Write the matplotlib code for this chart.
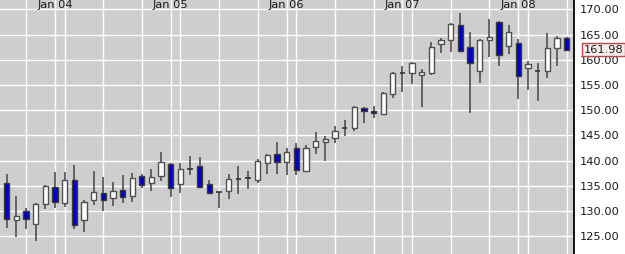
import numpy as np
import pandas as pd
import matplotlib
matplotlib.use("Agg")
import matplotlib.pyplot as plt
from matplotlib.transforms import blended_transform_factory

# ---- data (monthly OHLC, Aug 2003 .. Jun 2008) ----
months = pd.date_range("2003-08-01", periods=59, freq="MS")

opens = [135.48, 128.14, 129.98, 127.34, 131.37, 134.80, 131.51, 136.13, 128.26, 132.16,
         133.55, 132.50, 134.05, 132.90, 136.86, 135.54, 136.83, 139.25, 135.28, 138.42,
         138.85, 135.24, 133.68, 133.89, 136.28, 136.44, 136.21, 139.56, 141.23, 139.64,
         142.42, 137.92, 142.62, 143.61, 144.42, 146.42, 146.39, 150.48, 149.92, 149.29,
         153.29, 157.43, 157.42, 156.87, 157.36, 163.12, 163.81, 166.89, 162.46, 157.76,
         163.85, 167.42, 162.62, 163.25, 158.31, 157.77, 157.76, 162.42, 164.25]
highs = [137.26, 132.96, 130.60, 131.63, 135.14, 137.72, 137.72, 139.17, 132.16, 137.92,
         136.72, 135.80, 137.12, 137.46, 137.38, 138.31, 141.75, 139.44, 139.55, 140.85,
         140.66, 136.13, 133.80, 137.32, 138.91, 137.93, 140.24, 141.35, 143.63, 142.58,
         143.47, 143.08, 145.65, 144.86, 146.80, 148.04, 150.80, 150.56, 150.77, 153.69,
         157.56, 158.79, 159.60, 158.12, 163.45, 164.31, 167.28, 169.32, 165.50, 164.05,
         168.01, 167.74, 166.89, 164.17, 159.74, 159.40, 165.24, 164.70, 164.44]
lows = [126.67, 124.88, 126.47, 124.03, 130.32, 130.67, 130.83, 126.47, 125.75, 131.23,
        129.98, 131.03, 131.47, 131.73, 134.64, 134.01, 135.99, 132.82, 133.60, 137.22,
        134.50, 133.30, 130.52, 132.42, 133.40, 134.40, 135.60, 137.36, 137.38, 137.07,
        137.18, 137.72, 141.35, 139.96, 143.53, 144.86, 145.79, 147.54, 148.49, 148.97,
        152.34, 153.65, 155.24, 150.62, 156.96, 161.27, 161.59, 161.53, 149.36, 155.32,
        160.60, 158.75, 161.07, 152.14, 153.99, 151.87, 156.43, 158.69, 161.78]
closes = [128.33, 128.99, 128.45, 131.37, 134.88, 131.71, 136.19, 127.14, 131.77, 133.75,
          132.16, 133.95, 132.66, 136.47, 135.14, 136.73, 139.80, 134.60, 138.25, 138.40,
          134.70, 133.49, 133.66, 136.33, 136.26, 136.42, 139.86, 141.03, 139.64, 141.75,
          138.06, 142.48, 143.83, 144.23, 145.81, 146.40, 150.55, 149.92, 149.37, 153.40,
          157.30, 157.41, 159.44, 157.50, 162.58, 163.85, 167.08, 161.73, 159.29, 164.00,
          164.56, 160.93, 165.44, 156.83, 159.09, 157.75, 162.38, 164.25, 161.98]

price_ticks = [125, 130, 135, 140, 145, 150, 155, 160, 165, 170]

# ---- figure ----
W, H, DPI = 625, 254, 100
fig = plt.figure(figsize=(W / DPI, H / DPI), dpi=DPI)
fig.patch.set_facecolor("white")
ax = fig.add_axes([0, 0, 574 / W, 1])
ax.set_facecolor("#cecece")

x = np.arange(len(months))
o = np.array(opens); h = np.array(highs); l = np.array(lows); c = np.array(closes)

ax.set_xlim(-0.694, 58.77)
ax.set_ylim(121.45, 171.845)

# grid
for yv in price_ticks:
    ax.axhline(yv, color="white", lw=1.0, zorder=0)
for i, m in enumerate(months):
    if m.month % 4 == 2 or m.month == 1:
        ax.axvline(i, color="white", lw=1.0, zorder=0)

# wicks
ax.vlines(x, l, h, color="#5a5a5a", lw=1.3, zorder=2)

bw = 0.55
up = c > o + 0.1
down = c < o - 0.1
doji = ~(up | down)
ax.bar(x[up], (c - o)[up], bottom=o[up], width=bw, color="white",
       edgecolor="#505050", linewidth=1.0, zorder=3)
ax.bar(x[down], (c - o)[down], bottom=o[down], width=bw, color="#0000cc",
       edgecolor="#3c3c2c", linewidth=1.0, zorder=3)
ax.hlines(((o + c) / 2)[doji], x[doji] - bw / 2, x[doji] + bw / 2,
          color="#333333", lw=1.2, zorder=3)

# axes / spines
for s in ["top", "left", "bottom"]:
    ax.spines[s].set_visible(False)
ax.spines["right"].set_color("black")
ax.spines["right"].set_linewidth(1.3)
ax.set_xticks([])
ax.yaxis.tick_right()
ax.set_yticks(price_ticks)
ax.set_yticklabels([f"{v:.2f}" for v in price_ticks])
ax.tick_params(axis="y", length=0, pad=4.3, labelsize=8.2, labelcolor="#1a1a1a")

# year labels at top
tr = blended_transform_factory(ax.transData, ax.transAxes)
for i, m in enumerate(months):
    if m.month == 1:
        ax.text(i, 1 - 8.3 / H, m.strftime("Jan %y"), transform=tr, ha="center",
                va="baseline", fontsize=8.2, color="#1a1a1a", clip_on=False)

# last price label
tr2 = blended_transform_factory(fig.transFigure, ax.transData)
fig.text(583.5 / W, closes[-1], f"{closes[-1]:.2f}", transform=tr2, ha="left",
         va="center", fontsize=8.2, color="#1a1a1a",
         bbox=dict(boxstyle="square,pad=0.15", fc="#fbeeee", ec="#c04848", lw=1.0))

fig.savefig("out.png", dpi=DPI)
